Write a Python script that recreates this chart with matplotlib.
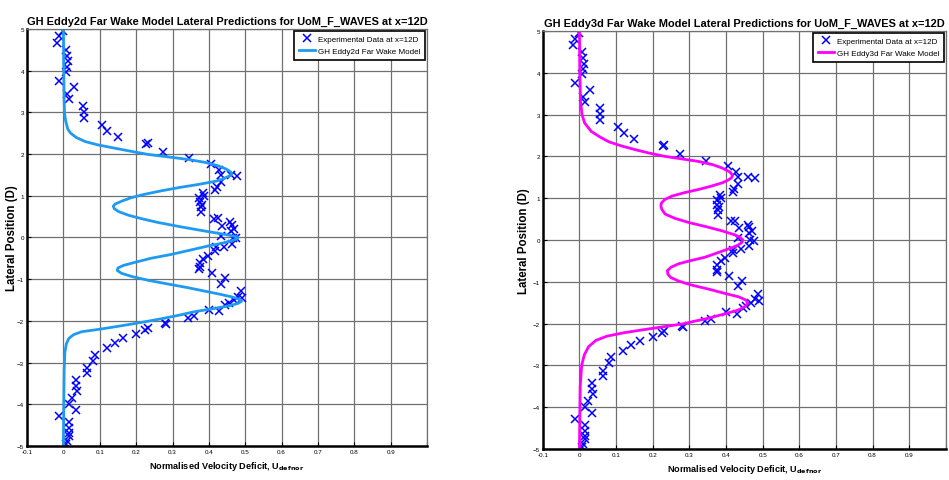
import matplotlib
matplotlib.use("Agg")
import matplotlib.pyplot as plt
import numpy as np

plt.rcParams['font.family'] = ['Liberation Sans', 'DejaVu Sans']

# experimental data at x=12D (same in both panels)
exp_x = [0.0, -0.011, -0.017, 0.006, 0.009, 0.012, 0.009, 0.006, -0.011, 0.028,
         0.009, 0.014, 0.055, 0.057, 0.057, 0.106, 0.121, 0.149, 0.228, 0.232,
         0.275, 0.346, 0.406, 0.427, 0.434, 0.478, 0.46, 0.432, 0.422, 0.418,
         0.383, 0.374, 0.376, 0.379, 0.379, 0.38, 0.386, 0.413, 0.425, 0.459,
         0.436, 0.462, 0.434, 0.466, 0.419, 0.442, 0.464, 0.418, 0.397, 0.385,
         0.376, 0.376, 0.374, 0.409, 0.444, 0.432, 0.487, 0.48, 0.468, 0.455,
         0.445, 0.429, 0.401, 0.358, 0.342, 0.28, 0.283, 0.232, 0.225, 0.2,
         0.165, 0.142, 0.119, 0.087, 0.081, 0.064, 0.064, 0.035, 0.035, 0.037,
         0.023, 0.016, 0.035, -0.012, 0.016, 0.014, 0.014, 0.014, 0.009, 0.008,
         0.463, 0.47, 0.475, 0.49]
exp_y = [4.95, 4.82, 4.67, 4.5, 4.36, 4.22, 4.08, 3.97, 3.75, 3.6,
         3.43, 3.31, 3.16, 3.02, 2.87, 2.7, 2.56, 2.41, 2.25, 2.27,
         2.06, 1.9, 1.76, 1.62, 1.51, 1.48, 1.5, 1.34, 1.22, 1.15,
         1.07, 0.95, 0.84, 0.72, 0.6, 0.78, 1.0, 0.45, 0.46, 0.36,
         0.28, 0.16, 0.04, -0.01, -0.24, -0.22, -0.15, -0.32, -0.44, -0.51,
         -0.6, -0.71, -0.76, -0.85, -0.98, -1.11, -1.28, -1.42, -1.5, -1.58,
         -1.63, -1.76, -1.73, -1.88, -1.93, -2.05, -2.08, -2.18, -2.22, -2.32,
         -2.42, -2.52, -2.65, -2.81, -2.95, -3.13, -3.25, -3.41, -3.57, -3.69,
         -3.85, -4.0, -4.14, -4.29, -4.43, -4.56, -4.68, -4.76, -4.88, -4.95,
         0.3, 0.21, -0.02, -1.45]

# GH Eddy2d model
e2_y = [5.0, 4.0, 3.3, 3.0, 2.8, 2.6, 2.5, 2.4, 2.3, 2.22, 2.14, 2.06, 1.99, 1.93,
        1.87, 1.8, 1.72, 1.64, 1.57, 1.52, 1.47, 1.41, 1.35, 1.27, 1.2, 1.12, 1.03,
        0.95, 0.87, 0.8, 0.75, 0.69, 0.62, 0.53, 0.44, 0.36, 0.26, 0.16, 0.08, 0.03,
        -0.01, -0.06, -0.13, -0.2, -0.3, -0.4, -0.5, -0.6, -0.67, -0.73, -0.79,
        -0.86, -0.94, -1.03, -1.12, -1.2, -1.28, -1.36, -1.43, -1.49, -1.53, -1.58,
        -1.64, -1.71, -1.78, -1.86, -1.94, -2.02, -2.08, -2.13, -2.2, -2.26, -2.33,
        -2.42, -2.55, -2.75, -3.2, -4.0, -5.0]
e2_x = [0.0, 0.001, 0.002, 0.003, 0.006, 0.012, 0.02, 0.035, 0.06, 0.095, 0.142,
        0.19, 0.234, 0.29, 0.344, 0.39, 0.425, 0.448, 0.46, 0.463, 0.455, 0.44,
        0.42, 0.37, 0.32, 0.27, 0.22, 0.185, 0.16, 0.142, 0.137, 0.14, 0.152, 0.18,
        0.22, 0.26, 0.32, 0.385, 0.44, 0.47, 0.48, 0.47, 0.44, 0.4, 0.35, 0.3, 0.24,
        0.195, 0.165, 0.15, 0.148, 0.16, 0.19, 0.235, 0.29, 0.34, 0.385, 0.43,
        0.465, 0.487, 0.49, 0.48, 0.455, 0.41, 0.36, 0.32, 0.275, 0.225, 0.185,
        0.15, 0.1, 0.05, 0.028, 0.015, 0.008, 0.004, 0.002, 0.001, 0.0]

# GH Eddy3d model
e3_y = [5.0, 4.0, 3.3, 3.0, 2.8, 2.6, 2.47, 2.35, 2.25, 2.16, 2.08, 2.0, 1.94,
        1.88, 1.8, 1.72, 1.63, 1.55, 1.49, 1.43, 1.37, 1.29, 1.21, 1.13, 1.05, 0.97,
        0.89, 0.82, 0.73, 0.62, 0.52, 0.42, 0.32, 0.22, 0.12, 0.06, 0.0, -0.06,
        -0.12, -0.17, -0.28, -0.41, -0.5, -0.57, -0.65, -0.73, -0.81, -0.89, -0.98,
        -1.08, -1.18, -1.28, -1.36, -1.44, -1.52, -1.6, -1.68, -1.77, -1.87, -1.94,
        -2.01, -2.08, -2.15, -2.22, -2.3, -2.4, -2.55, -2.75, -3.0, -3.5, -4.2, -5.0]
e3_x = [0.0, 0.001, 0.003, 0.007, 0.014, 0.032, 0.055, 0.08, 0.115, 0.153, 0.19,
        0.234, 0.28, 0.325, 0.365, 0.39, 0.41, 0.418, 0.415, 0.405, 0.39, 0.36,
        0.325, 0.285, 0.252, 0.233, 0.224, 0.222, 0.225, 0.234, 0.26, 0.298, 0.345,
        0.389, 0.425, 0.439, 0.446, 0.443, 0.433, 0.42, 0.385, 0.343, 0.3, 0.27,
        0.25, 0.24, 0.241, 0.248, 0.27, 0.307, 0.355, 0.398, 0.435, 0.455, 0.459,
        0.45, 0.432, 0.395, 0.352, 0.315, 0.28, 0.225, 0.171, 0.12, 0.075, 0.045,
        0.025, 0.013, 0.006, 0.002, 0.001, 0.0]

xticks = [-0.1, 0, 0.1, 0.2, 0.3, 0.4, 0.5, 0.6, 0.7, 0.8, 0.9, 1.0]
xticklabels = ['-0.1', '0', '0.1', '0.2', '0.3', '0.4', '0.5', '0.6', '0.7', '0.8', '0.9', '']
yticks = [-5, -4, -3, -2, -1, 0, 1, 2, 3, 4, 5]

fig = plt.figure(figsize=(9.49, 4.81), dpi=100)
ax1 = fig.add_axes([0.0285, 0.0707, 0.4215, 0.867])
ax2 = fig.add_axes([0.572, 0.0644, 0.4247, 0.869])

panels = [(ax1, e2_x, e2_y, '#1e9bf0', 'GH Eddy2d Far Wake Model',
           'GH Eddy2d Far Wake Model Lateral Predictions for UoM_F_WAVES at x=12D', -0.023),
          (ax2, e3_x, e3_y, '#ff00ff', 'GH Eddy3d Far Wake Model',
           'GH Eddy3d Far Wake Model Lateral Predictions for UoM_F_WAVES at x=12D', -0.031)]

for ax, mx, my, col, lab, title, ylx in panels:
    ax.plot(exp_x, exp_y, 'x', color='#0000ff', ms=6, mew=1.1, linestyle='none',
            label='Experimental Data at x=12D')
    ax.plot(mx, my, '-', color=col, lw=2, label=lab)
    ax.set_xlim(-0.1, 1.0)
    ax.set_ylim(-5, 5)
    ax.set_xticks(xticks)
    ax.set_xticklabels(xticklabels)
    ax.set_yticks(yticks)
    ax.tick_params(direction='in', length=3, width=0.8, labelsize=4.5, pad=2)
    ax.grid(True, color='#707070', lw=0.9)
    ax.set_axisbelow(True)
    for s in ['left', 'bottom']:
        ax.spines[s].set_linewidth(1.8)
    for s in ['top', 'right']:
        ax.spines[s].set_color('#707070')
        ax.spines[s].set_linewidth(0.9)
    ax.set_title(title, fontsize=7.9, fontweight='bold', pad=4)
    ax.set_xlabel(r'Normalised Velocity Deficit, U$_{\mathbf{defnor}}$', fontsize=6.6,
                  fontweight='bold', labelpad=4)
    ax.set_ylabel('Lateral Position (D)', fontsize=8.3, fontweight='bold')
    ax.yaxis.set_label_coords(ylx, 0.5)
    leg = ax.legend(loc='upper right', bbox_to_anchor=(0.995, 0.995), borderaxespad=0,
                    fontsize=5.8, fancybox=False, framealpha=1, edgecolor='black',
                    handlelength=2.0, borderpad=0.55, labelspacing=0.55, handletextpad=0.4)
    leg.get_frame().set_linewidth(1.2)

fig.savefig('out.png', dpi=100)
